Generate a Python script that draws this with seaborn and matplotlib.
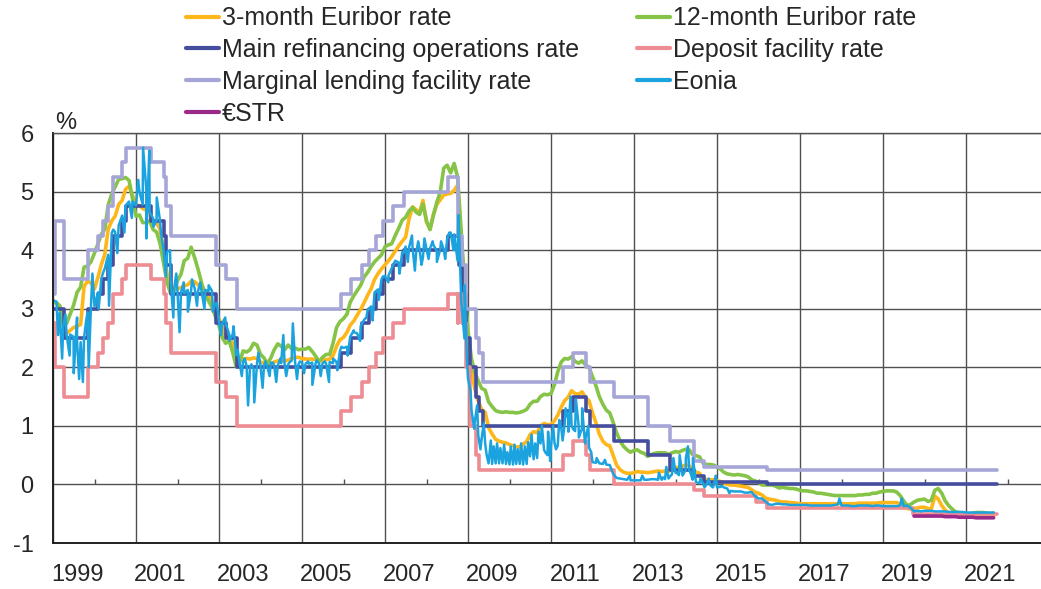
import matplotlib
matplotlib.use('Agg')
import matplotlib.pyplot as plt
import seaborn as sns
import numpy as np
import pandas as pd

## monthly averages, Jan 1999 - Sep 2021 (%)
euribor_3m = [
    3.13, 3.09, 3.05, 2.70, 2.58, 2.63, 2.68, 2.70, 2.73, 3.38, 3.47, 3.44,  # 1999
    3.34, 3.54, 3.75, 3.93, 4.36, 4.50, 4.58, 4.78, 4.85, 5.04, 5.09, 4.94,  # 2000
    4.77, 4.76, 4.71, 4.68, 4.64, 4.45, 4.47, 4.35, 3.98, 3.60, 3.39, 3.34,  # 2001
    3.34, 3.36, 3.39, 3.41, 3.47, 3.46, 3.41, 3.35, 3.31, 3.26, 3.12, 2.94,  # 2002
    2.83, 2.69, 2.53, 2.53, 2.40, 2.15, 2.13, 2.14, 2.15, 2.14, 2.16, 2.15,  # 2003
    2.09, 2.07, 2.03, 2.05, 2.09, 2.11, 2.12, 2.11, 2.12, 2.15, 2.17, 2.17,  # 2004
    2.15, 2.14, 2.14, 2.14, 2.13, 2.11, 2.12, 2.13, 2.14, 2.20, 2.36, 2.47,  # 2005
    2.51, 2.60, 2.72, 2.79, 2.89, 2.99, 3.10, 3.23, 3.34, 3.50, 3.60, 3.68,  # 2006
    3.75, 3.82, 3.89, 3.98, 4.07, 4.15, 4.22, 4.54, 4.74, 4.69, 4.64, 4.85,  # 2007
    4.48, 4.36, 4.60, 4.78, 4.86, 4.94, 4.96, 4.97, 5.02, 5.11, 4.24, 3.29,  # 2008
    2.46, 1.94, 1.64, 1.42, 1.28, 1.23, 0.97, 0.86, 0.77, 0.74, 0.72, 0.71,  # 2009
    0.68, 0.66, 0.64, 0.64, 0.69, 0.73, 0.85, 0.90, 0.88, 1.00, 1.04, 1.02,  # 2010
    1.02, 1.09, 1.18, 1.32, 1.43, 1.49, 1.60, 1.55, 1.54, 1.58, 1.48, 1.43,  # 2011
    1.22, 1.05, 0.86, 0.74, 0.68, 0.66, 0.50, 0.33, 0.25, 0.21, 0.19, 0.19,  # 2012
    0.20, 0.22, 0.21, 0.21, 0.20, 0.21, 0.22, 0.23, 0.22, 0.23, 0.22, 0.27,  # 2013
    0.29, 0.29, 0.31, 0.33, 0.32, 0.24, 0.21, 0.19, 0.10, 0.08, 0.08, 0.08,  # 2014
    0.06, 0.05, 0.03, 0.00, -0.01, -0.01, -0.02, -0.03, -0.04, -0.05, -0.09, -0.13,  # 2015
    -0.15, -0.18, -0.23, -0.25, -0.26, -0.27, -0.29, -0.30, -0.30, -0.31, -0.31, -0.32,  # 2016
    -0.33, -0.33, -0.33, -0.33, -0.33, -0.33, -0.33, -0.33, -0.33, -0.33, -0.33, -0.33,  # 2017
    -0.33, -0.33, -0.33, -0.33, -0.33, -0.32, -0.32, -0.32, -0.32, -0.32, -0.32, -0.31,  # 2018
    -0.31, -0.31, -0.31, -0.31, -0.31, -0.33, -0.37, -0.41, -0.42, -0.41, -0.40, -0.39,  # 2019
    -0.39, -0.41, -0.42, -0.20, -0.25, -0.36, -0.44, -0.48, -0.49, -0.51, -0.52, -0.54,  # 2020
    -0.55, -0.54, -0.54, -0.54, -0.54, -0.54, -0.54, -0.55, -0.55,  # 2021
]
euribor_12m = [
    3.14, 3.10, 3.05, 2.76, 2.75, 2.91, 3.06, 3.28, 3.37, 3.71, 3.73, 3.80,
    3.95, 4.11, 4.27, 4.36, 4.77, 4.96, 5.08, 5.21, 5.22, 5.24, 5.19, 4.88,
    4.58, 4.60, 4.47, 4.47, 4.50, 4.35, 4.31, 4.11, 3.77, 3.45, 3.26, 3.30,
    3.48, 3.59, 3.82, 3.86, 4.05, 3.87, 3.67, 3.44, 3.24, 3.13, 3.02, 2.87,
    2.71, 2.50, 2.41, 2.45, 2.26, 2.01, 2.08, 2.28, 2.26, 2.30, 2.41, 2.38,
    2.22, 2.16, 2.06, 2.16, 2.30, 2.40, 2.36, 2.30, 2.38, 2.32, 2.33, 2.30,
    2.31, 2.31, 2.34, 2.27, 2.19, 2.10, 2.17, 2.22, 2.22, 2.41, 2.68, 2.78,
    2.83, 2.91, 3.11, 3.22, 3.31, 3.40, 3.54, 3.62, 3.72, 3.80, 3.86, 3.92,
    4.06, 4.09, 4.11, 4.25, 4.37, 4.51, 4.56, 4.67, 4.73, 4.65, 4.61, 4.79,
    4.50, 4.35, 4.59, 4.82, 4.99, 5.40, 5.45, 5.32, 5.48, 5.25, 4.35, 3.45,
    2.62, 2.14, 1.91, 1.77, 1.64, 1.61, 1.41, 1.33, 1.26, 1.24, 1.23, 1.24,
    1.23, 1.23, 1.22, 1.23, 1.25, 1.28, 1.37, 1.42, 1.42, 1.50, 1.54, 1.53,
    1.55, 1.71, 1.92, 2.09, 2.15, 2.14, 2.18, 2.10, 2.07, 2.11, 2.04, 2.00,
    1.84, 1.68, 1.50, 1.37, 1.27, 1.22, 1.06, 0.88, 0.74, 0.65, 0.59, 0.55,
    0.58, 0.59, 0.55, 0.53, 0.48, 0.51, 0.53, 0.54, 0.54, 0.54, 0.51, 0.54,
    0.56, 0.55, 0.58, 0.60, 0.59, 0.51, 0.49, 0.47, 0.36, 0.34, 0.34, 0.33,
    0.30, 0.26, 0.21, 0.18, 0.17, 0.16, 0.17, 0.16, 0.15, 0.13, 0.08, 0.06,
    0.04, -0.01, -0.01, -0.01, -0.01, -0.03, -0.06, -0.05, -0.06, -0.07, -0.07, -0.08,
    -0.10, -0.11, -0.11, -0.12, -0.13, -0.15, -0.15, -0.16, -0.17, -0.18, -0.19, -0.19,
    -0.19, -0.19, -0.19, -0.19, -0.19, -0.18, -0.18, -0.17, -0.17, -0.15, -0.15, -0.13,
    -0.12, -0.11, -0.11, -0.11, -0.13, -0.19, -0.28, -0.36, -0.34, -0.30, -0.27, -0.26,
    -0.25, -0.29, -0.27, -0.10, -0.07, -0.15, -0.28, -0.36, -0.42, -0.47, -0.48, -0.50,
    -0.50, -0.50, -0.49, -0.48, -0.48, -0.48, -0.49, -0.50, -0.49,
]
eonia = [
    3.14, 3.12, 2.93, 2.71, 2.55, 2.56, 2.52, 2.44, 2.43, 2.50, 2.94, 3.04,
    3.04, 3.28, 3.51, 3.69, 3.92, 4.29, 4.31, 4.42, 4.59, 4.76, 4.83, 4.83,
    4.76, 4.99, 4.78, 5.06, 4.65, 4.54, 4.51, 4.49, 3.99, 3.97, 3.51, 3.32,
    3.29, 3.28, 3.26, 3.32, 3.31, 3.35, 3.30, 3.29, 3.32, 3.30, 3.30, 3.09,
    2.79, 2.76, 2.75, 2.56, 2.56, 2.21, 2.08, 2.10, 2.02, 2.01, 1.97, 2.06,
    2.02, 2.03, 2.01, 2.08, 2.02, 2.03, 2.07, 2.04, 2.05, 2.11, 2.09, 2.05,
    2.08, 2.06, 2.06, 2.08, 2.07, 2.06, 2.07, 2.06, 2.09, 2.07, 2.09, 2.28,
    2.33, 2.35, 2.52, 2.63, 2.58, 2.70, 2.81, 2.97, 3.04, 3.28, 3.33, 3.50,
    3.56, 3.57, 3.69, 3.82, 3.79, 3.96, 4.06, 4.05, 4.03, 3.94, 4.02, 3.88,
    4.02, 4.03, 4.09, 3.99, 4.01, 4.01, 4.19, 4.30, 4.27, 3.82, 3.15, 2.49,
    1.81, 1.26, 1.06, 0.84, 0.78, 0.70, 0.36, 0.35, 0.36, 0.36, 0.36, 0.35,
    0.34, 0.34, 0.35, 0.35, 0.34, 0.35, 0.48, 0.43, 0.45, 0.70, 0.59, 0.50,
    0.66, 0.71, 0.66, 0.97, 1.03, 1.12, 1.01, 0.91, 1.01, 0.96, 0.79, 0.63,
    0.38, 0.37, 0.36, 0.35, 0.34, 0.33, 0.18, 0.11, 0.10, 0.09, 0.08, 0.07,
    0.07, 0.07, 0.07, 0.08, 0.08, 0.09, 0.09, 0.08, 0.08, 0.09, 0.10, 0.17,
    0.20, 0.16, 0.19, 0.25, 0.25, 0.08, 0.04, 0.02, 0.01, 0.00, -0.01, -0.03,
    -0.05, -0.04, -0.05, -0.07, -0.11, -0.12, -0.12, -0.12, -0.14, -0.14, -0.13, -0.20,
    -0.24, -0.24, -0.29, -0.34, -0.35, -0.33, -0.33, -0.34, -0.34, -0.35, -0.35, -0.35,
    -0.35, -0.35, -0.35, -0.36, -0.36, -0.36, -0.36, -0.36, -0.36, -0.36, -0.35, -0.34,
    -0.36, -0.36, -0.36, -0.37, -0.37, -0.36, -0.36, -0.36, -0.36, -0.37, -0.36, -0.36,
    -0.37, -0.37, -0.37, -0.37, -0.37, -0.36, -0.37, -0.36, -0.40, -0.46, -0.45, -0.46,
    -0.45, -0.45, -0.45, -0.46, -0.46, -0.46, -0.46, -0.47, -0.47, -0.47, -0.47, -0.47,
    -0.48, -0.48, -0.48, -0.48, -0.48, -0.48, -0.48, -0.48, -0.48,
]
# single-day Eonia spikes (decimal year, %)
eonia_spike_t = [
    1999.12, 1999.22, 1999.30, 1999.40, 1999.50, 1999.58, 1999.63, 1999.72, 1999.80, 1999.86, 1999.95,
    2000.10, 2000.20, 2000.35, 2000.45, 2000.55, 2000.72, 2000.90,
    2001.05, 2001.17, 2001.25, 2001.32, 2001.42, 2001.50, 2001.60, 2001.72, 2001.82, 2001.90, 2001.97,
    2002.05, 2002.15, 2002.25, 2002.35, 2002.47, 2002.55, 2002.65, 2002.75, 2002.85, 2002.95,
    2003.05, 2003.15, 2003.25, 2003.35, 2003.45, 2003.55, 2003.62, 2003.70, 2003.78, 2003.85, 2003.95,
    2004.05, 2004.12, 2004.22, 2004.30, 2004.38, 2004.48, 2004.55, 2004.62, 2004.72, 2004.78, 2004.88, 2004.95,
    2005.05, 2005.15, 2005.25, 2005.35, 2005.45, 2005.55, 2005.65, 2005.75, 2005.85, 2005.95,
    2006.10, 2006.25, 2006.40, 2006.55, 2006.70, 2006.85, 2006.95,
    2007.08, 2007.20, 2007.35, 2007.45, 2007.55, 2007.65, 2007.72, 2007.80, 2007.88, 2007.95,
    2008.05, 2008.15, 2008.25, 2008.35, 2008.45, 2008.55, 2008.65, 2008.77, 2008.83, 2008.92, 2008.97,
    2009.06, 2009.15, 2009.22, 2009.30, 2009.38, 2009.45, 2009.55,
    2009.62, 2009.70, 2009.78, 2009.87, 2009.95, 2010.03, 2010.12, 2010.20, 2010.28, 2010.37, 2010.45, 2010.53, 2010.62, 2010.70, 2010.78, 2010.86, 2010.93, 2010.98,
    2011.05, 2011.12, 2011.20, 2011.28, 2011.35, 2011.42, 2011.47, 2011.53, 2011.60, 2011.67, 2011.75, 2011.82, 2011.90, 2011.97,
    2012.10, 2012.30, 2012.90, 2013.20,
    2013.60, 2013.70, 2013.78, 2013.88, 2013.95, 2014.02, 2014.10, 2014.17, 2014.25, 2014.30, 2014.36, 2014.42, 2014.48,
    2014.60, 2014.70, 2014.80, 2014.90, 2014.97, 2015.10, 2015.30,
    2017.95, 2019.45,
]
eonia_spike_v = [
    2.55, 2.15, 2.90, 2.20, 1.90, 2.85, 1.80, 1.75, 2.80, 2.00, 3.60,
    3.00, 3.60, 3.05, 4.35, 3.95, 4.30, 4.55,
    5.20, 5.75, 4.20, 5.70, 4.40, 4.90, 4.30, 3.55, 4.00, 2.85, 3.60,
    2.60, 3.45, 2.95, 3.50, 3.05, 3.45, 3.00, 3.40, 2.95, 3.10,
    2.55, 2.85, 2.45, 2.70, 2.30, 1.85, 2.15, 1.35, 2.05, 1.40, 2.25,
    1.65, 2.10, 1.85, 2.08, 1.75, 2.15, 2.55, 1.85, 2.10, 2.75, 1.80, 2.10,
    1.90, 2.10, 1.70, 2.12, 1.85, 2.10, 1.75, 2.15, 1.95, 2.35,
    2.20, 2.60, 2.45, 2.85, 2.80, 3.15, 3.55,
    3.45, 3.75, 3.60, 3.95, 3.80, 4.25, 3.65, 4.15, 3.75, 4.20,
    3.85, 4.15, 3.80, 4.15, 3.85, 4.30, 4.00, 4.60, 3.30, 3.40, 2.20,
    1.60, 0.95, 1.35, 0.60, 1.05, 0.50, 0.75,
    0.65, 0.70, 0.62, 0.68, 0.55, 0.65, 0.68, 0.60, 0.70, 0.65, 0.72, 0.85, 0.70, 0.90, 1.00, 0.55, 0.90, 0.40,
    1.00, 0.60, 1.10, 0.75, 1.30, 0.90, 1.50, 0.95, 1.45, 0.80, 1.30, 0.70, 1.00, 0.55,
    0.45, 0.42, 0.15, 0.15,
    0.20, 0.12, 0.30, 0.15, 0.45, 0.20, 0.50, 0.15, 0.45, 0.65, 0.20, 0.45, 0.10,
    0.10, -0.05, 0.10, -0.05, 0.15, -0.02, -0.15,
    -0.24, -0.24,
]
# €STR, monthly from Oct 2019
estr = [
    -0.54, -0.54, -0.54,
    -0.54, -0.54, -0.54, -0.54, -0.54, -0.54, -0.55, -0.55, -0.55, -0.55, -0.56, -0.56,
    -0.56, -0.56, -0.56, -0.57, -0.57, -0.57, -0.57, -0.57, -0.57,
]

## ECB key interest rates: dates the changes took effect (last one = end of chart)
rate_dates = [
    '1999-01-01', '1999-01-04', '1999-01-22', '1999-04-09', '1999-11-05',
    '2000-02-04', '2000-03-17', '2000-04-28', '2000-06-09', '2000-09-01', '2000-10-06',
    '2001-05-11', '2001-08-31', '2001-09-18', '2001-11-09', '2002-12-06',
    '2003-03-07', '2003-06-06', '2005-12-06', '2006-03-08', '2006-06-15',
    '2006-08-09', '2006-10-11', '2006-12-13', '2007-03-14', '2007-06-13',
    '2008-07-09', '2008-10-08', '2008-10-09', '2008-10-15', '2008-11-12', '2008-12-10',
    '2009-01-21', '2009-03-11', '2009-04-08', '2009-05-13', '2011-04-13',
    '2011-07-13', '2011-11-09', '2011-12-14', '2012-07-11', '2013-05-08',
    '2013-11-13', '2014-06-11', '2014-09-10', '2015-12-09', '2016-03-16',
    '2019-09-18', '2021-09-30',
]
deposit_rate = [
    2.00, 2.75, 2.00, 1.50, 2.00,
    2.25, 2.50, 2.75, 3.25, 3.50, 3.75,
    3.50, 3.25, 2.75, 2.25, 1.75,
    1.50, 1.00, 1.25, 1.50, 1.75,
    2.00, 2.25, 2.50, 2.75, 3.00,
    3.25, 2.75, 3.25, 3.25, 2.75, 2.00,
    1.00, 0.50, 0.25, 0.25, 0.50,
    0.75, 0.50, 0.25, 0.00, 0.00,
    0.00, -0.10, -0.20, -0.30, -0.40,
    -0.50, -0.50,
]
mro_rate = [
    3.00, 3.00, 3.00, 2.50, 3.00,
    3.25, 3.50, 3.75, 4.25, 4.50, 4.75,
    4.50, 4.25, 3.75, 3.25, 2.75,
    2.50, 2.00, 2.25, 2.50, 2.75,
    3.00, 3.25, 3.50, 3.75, 4.00,
    4.25, 4.25, 4.25, 3.75, 3.25, 2.50,
    2.00, 1.50, 1.25, 1.00, 1.25,
    1.50, 1.25, 1.00, 0.75, 0.50,
    0.25, 0.15, 0.05, 0.05, 0.00,
    0.00, 0.00,
]
mlf_rate = [
    4.50, 3.25, 4.50, 3.50, 4.00,
    4.25, 4.50, 4.75, 5.25, 5.50, 5.75,
    5.50, 5.25, 4.75, 4.25, 3.75,
    3.50, 3.00, 3.25, 3.50, 3.75,
    4.00, 4.25, 4.50, 4.75, 5.00,
    5.25, 4.75, 4.25, 4.25, 3.75, 3.00,
    3.00, 2.50, 2.25, 1.75, 2.00,
    2.25, 2.00, 1.75, 1.50, 1.00,
    0.75, 0.40, 0.30, 0.30, 0.25,
    0.25, 0.25,
]

year_labels = [str(y) for y in range(1999, 2022, 2)]

colors = {
    '3m': '#FDB71A', '12m': '#85C446', 'mro': '#454E9E', 'df': '#EE8C93',
    'mlf': '#A5A5D8', 'eonia': '#1BA3DF', 'estr': '#9A2A8A',
}


def dec_year(dates):
    d = pd.DatetimeIndex(pd.to_datetime(dates))
    days = np.where(d.is_leap_year, 366, 365)
    return np.asarray(d.year + (d.dayofyear - 1) / days, dtype=float)


months = dec_year(pd.date_range('1999-01-01', periods=len(eonia), freq='MS'))
monthly = pd.DataFrame({'t': months, 'm3': euribor_3m, 'm12': euribor_12m})
eonia_df = pd.concat([
    pd.DataFrame({'t': months, 'v': eonia}),
    pd.DataFrame({'t': eonia_spike_t, 'v': eonia_spike_v}),
]).sort_values('t').reset_index(drop=True)
estr_df = pd.DataFrame({'t': dec_year(pd.date_range('2019-10-01', periods=len(estr), freq='MS')),
                        'v': estr})
rates = pd.DataFrame({'t': dec_year(rate_dates), 'df': deposit_rate,
                      'mro': mro_rate, 'mlf': mlf_rate})

sns.set_style('white')
plt.rcParams['font.family'] = ['Liberation Sans', 'DejaVu Sans']
plt.rcParams['axes.unicode_minus'] = False

fig = plt.figure(figsize=(10.41, 5.89), dpi=100)
ax = fig.add_axes([53 / 1041, 46 / 589, 988 / 1041, 410 / 589])

lw = 2.6
common = dict(ax=ax, estimator=None, sort=False)
sns.lineplot(data=monthly, x='t', y='m3', color=colors['3m'], lw=lw,
             label='3-month Euribor rate', **common)
sns.lineplot(data=monthly, x='t', y='m12', color=colors['12m'], lw=lw,
             label='12-month Euribor rate', **common)
sns.lineplot(data=rates, x='t', y='mro', color=colors['mro'], lw=lw, drawstyle='steps-post',
             label='Main refinancing operations rate', **common)
sns.lineplot(data=rates, x='t', y='df', color=colors['df'], lw=lw, drawstyle='steps-post',
             label='Deposit facility rate', **common)
sns.lineplot(data=rates, x='t', y='mlf', color=colors['mlf'], lw=lw, drawstyle='steps-post',
             label='Marginal lending facility rate', **common)
sns.lineplot(data=eonia_df, x='t', y='v', color=colors['eonia'], lw=1.8,
             label='Eonia', **common)
sns.lineplot(data=estr_df, x='t', y='v', color=colors['estr'], lw=lw,
             label='€STR', **common)

# axes
ax.set_xlim(1999, 1999 + 988 / 41.5)
ax.set_ylim(-1, 6)
ax.set_xlabel('')
ax.set_ylabel('')
ax.set_xticks(range(1999, 2022, 2))
ax.set_xticks([y + 0.58 for y in range(1999, 2022, 2)], minor=True)
ax.set_xticklabels(year_labels, minor=True)
ax.tick_params(axis='x', which='major', length=0, labelbottom=False)
ax.tick_params(axis='x', which='minor', length=0, labelsize=17, pad=15)
ax.set_yticks(range(-1, 7))
ax.tick_params(axis='y', length=0, labelsize=17, pad=14)
ax.grid(True, which='major', color='#505050', lw=1.0)
ax.set_axisbelow(True)
for side in ['left', 'bottom']:
    ax.spines[side].set_color('#202020')
    ax.spines[side].set_linewidth(1.4)
ax.spines['top'].set_color('#505050')
ax.spines['top'].set_linewidth(1.0)
ax.spines['right'].set_visible(False)

# small ticks on the zero line at even years
ax.vlines(range(2000, 2023, 2), 0, 0.09, color='#505050', lw=1.0, zorder=1)

ax.text(0.002, 0.998, '%', transform=ax.transAxes, ha='left', va='bottom', fontsize=17)

# legend, two columns above the plot
handles, labels = ax.get_legend_handles_labels()
ax.get_legend().remove()
order = [0, 2, 4, 6, 1, 3, 5]
leg = fig.legend([handles[i] for i in order], [labels[i] for i in order],
                 loc='upper left', bbox_to_anchor=(186 / 1041, 0.989), ncol=2,
                 frameon=False, fontsize=18, handlelength=1.32, handletextpad=0.1,
                 labelspacing=0.31, columnspacing=2.35, borderpad=0, borderaxespad=0)
for line in leg.get_lines():
    line.set_linewidth(3.0)

fig.savefig('out.png', dpi=100)
